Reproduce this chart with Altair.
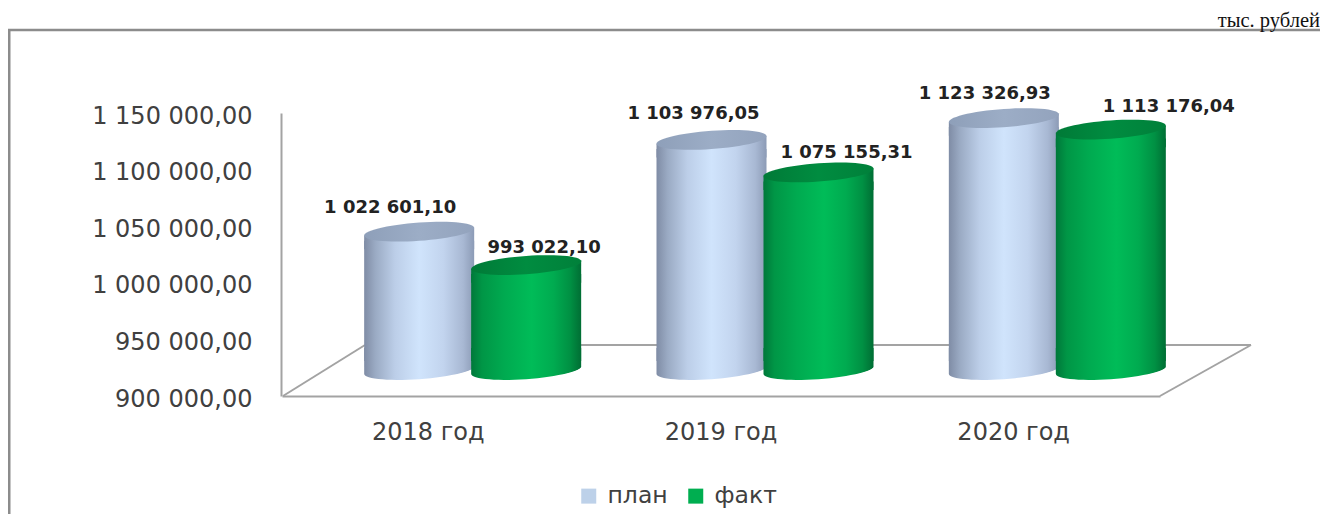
import math
import altair as alt
import pandas as pd

years = ["2018 год", "2019 год", "2020 год"]
plan = [1022601.10, 1103976.05, 1123326.93]
fact = [993022.10, 1075155.31, 1113176.04]
series_names = ["план", "факт"]
y_ticks = [900000, 950000, 1000000, 1050000, 1100000, 1150000]
unit_text = "тыс. рублей"

W, H = 1312, 506
AXIS_FONT = "DejaVu Sans"
GREY = "#a3a3a3"
FRAME = "#8c8c8c"


def fmt(v):
    return f"{v:,.2f}".replace(",", " ").replace(".", ",")


def rows(vals, name):
    return pd.DataFrame({"year": years, "value": vals, "series": name, "label": [fmt(v) for v in vals]})


# unit-square symbol paths for the cylinder caps
S, B = 0.07, 0.166


def arc(t0, t1, n=30):
    pts = []
    for i in range(n + 1):
        t = t0 + (t1 - t0) * i / n
        pts.append((math.cos(t), -S * math.cos(t) + B * math.sin(t)))
    return pts


def path(pts):
    return "M" + " L".join(f"{x:.3f},{y:.3f}" for x, y in pts) + " Z"


ELLIPSE = path(arc(0, 2 * math.pi, 60))
COLLAR = path([(-1, S), (1, -S), (1, 0.32), (-1, 0.32)])
BOTTOM = path([(-1, -0.4), (1, -0.4)] + arc(0, math.pi))


def grad(stops):
    return alt.Gradient(
        gradient="linear", x1=0, x2=1, y1=0, y2=0,
        stops=[alt.GradientStop(offset=o, color=c) for o, c in stops],
    )


side_plan = grad([(0, "#7f8ca5"), (0.1, "#9aaac3"), (0.28, "#bccee8"), (0.5, "#d0e4fc"), (0.72, "#c2d4ee"), (0.9, "#a8b8d3"), (1, "#8c9bb6")])
side_fact = grad([(0, "#00783a"), (0.1, "#009646"), (0.3, "#00aa50"), (0.55, "#00bc58"), (0.75, "#00ab50"), (0.9, "#009043"), (1, "#006e34")])
cap_plan = grad([(0, "#8e9fb9"), (0.5, "#9cadc6"), (1, "#93a3bd")])
cap_fact = grad([(0, "#007a37"), (0.5, "#008c40"), (1, "#00803a")])

BAR_W = 110
HALF = 55
SIZE = (2 * HALF) ** 2
x_bars = alt.Scale(type="band", domain=years, range=[318.5, 1195.5], padding=0, round=False)
y_bars = alt.Scale(domain=[900000, 1150000], range=[362, 80], clamp=False)
x_axis = alt.Scale(type="band", domain=years, range=[274, 1152], padding=0)
y_axis = alt.Scale(domain=[900000, 1150000], range=[388, 105])

X = alt.X("year:N", scale=x_bars, axis=None)
Y = alt.Y("value:Q", scale=y_bars, axis=None)


def cylinder(df, dx, side, cap):
    base = alt.Chart(df)
    body = base.mark_bar(size=BAR_W, color=side, xOffset=dx, yOffset=9, y2Offset=-9, cornerRadius=0).encode(
        x=X, y=Y, y2=alt.Y2(datum=900000)
    )
    pts = dict(filled=True, size=SIZE, opacity=1, strokeWidth=0, xOffset=dx)
    bottom = (
        base.mark_point(shape=BOTTOM, fill=side, **pts)
        .transform_calculate(b="900000")
        .encode(x=X, y=alt.Y("b:Q", scale=y_bars, axis=None))
    )
    collar = base.mark_point(shape=COLLAR, fill=side, **pts).encode(x=X, y=Y)
    top = base.mark_point(shape=ELLIPSE, fill=cap, **pts).encode(x=X, y=Y)
    return [body, bottom, collar, top]


def line(x1, y1, x2, y2, color=GREY, w=2):
    return (
        alt.Chart(pd.DataFrame({"a": [0]}))
        .mark_rule(color=color, strokeWidth=w)
        .encode(x=alt.value(x1), x2=alt.value(x2), y=alt.value(y1), y2=alt.value(y2))
    )


df_plan = rows(plan, series_names[0])
df_fact = rows(fact, series_names[1])
df_all = pd.concat([df_plan, df_fact])

axes = (
    alt.Chart(df_plan)
    .mark_point(opacity=0)
    .encode(
        x=alt.X(
            "year:N", scale=x_axis,
            axis=alt.Axis(
                title=None, orient="bottom", offset=-(H - 388), ticks=False, labelAngle=0,
                domainColor=GREY, domainWidth=2, labelFont=AXIS_FONT, labelFontSize=24,
                labelColor="#404040", labelPadding=24,
            ),
        ),
        y=alt.Y(
            "value:Q", scale=y_axis,
            axis=alt.Axis(
                title=None, values=y_ticks, grid=False, ticks=False, offset=-273,
                domainColor=GREY, domainWidth=2, labelFont=AXIS_FONT, labelFontSize=24,
                labelColor="#404040", labelPadding=29, labelOffset=3,
                labelExpr="replace(replace(format(datum.value, ',.2f'), /,/g, ' '), '.', ',')",
            ),
        ),
    )
)

# floor of the 3-D box
floor = [
    line(357, 337, 1243, 337),
    line(275, 388, 357, 337),
    line(1152, 388, 1243, 337),
]

label_offsets = {
    series_names[0]: [(-29, -24), (-18, -26), (-19, -24)],
    series_names[1]: [(18, -17), (28, -19), (58, -23)],
}
labels = []
for df, dx in ((df_plan, -53.5), (df_fact, 53.5)):
    for i, (_, row) in enumerate(df.iterrows()):
        ox, oy = label_offsets[row["series"]][i]
        labels.append(
            alt.Chart(df.iloc[[i]])
            .mark_text(
                font=AXIS_FONT, fontWeight="bold", fontSize=18, color="#222222",
                dx=dx + ox, dy=oy,
            )
            .encode(x=X, y=Y, text="label:N")
        )

legend = (
    alt.Chart(df_all)
    .mark_square(size=0, opacity=1)
    .encode(
        x=X, y=Y,
        color=alt.Color(
            "series:N",
            scale=alt.Scale(domain=series_names, range=["#bdd1e9", "#00ae50"]),
            legend=alt.Legend(
                title=None, orient="none", legendX=569, legendY=476, direction="horizontal",
                symbolType="square", symbolSize=225, symbolOpacity=1, symbolStrokeWidth=0,
                labelFont=AXIS_FONT, labelFontSize=23.5, labelColor="#404040",
                columnPadding=16, labelOffset=7,
            ),
        ),
    )
)

frame = [
    line(1, 22, 1, H, FRAME, 3),
    line(0, 22, W, 22, FRAME, 2.5),
]

unit = (
    alt.Chart(pd.DataFrame({"t": [unit_text]}))
    .mark_text(font="Liberation Serif", fontSize=20.5, color="#111111", align="right", baseline="alphabetic")
    .encode(x=alt.value(W), y=alt.value(19), text="t:N")
)

layers = (
    floor
    + [axes]
    + cylinder(df_plan, -53.5, side_plan, cap_plan)
    + cylinder(df_fact, 53.5, side_fact, cap_fact)
    + labels
    + [legend]
    + frame
    + [unit]
)

chart = (
    alt.layer(*layers)
    .resolve_scale(x="independent", y="independent")
    .properties(width=W, height=H, padding=0, autosize=alt.AutoSizeParams(type="none"), background="white")
    .configure_view(stroke=None)
)

chart.save("out.html", embed_options={"renderer": "svg", "actions": False})
